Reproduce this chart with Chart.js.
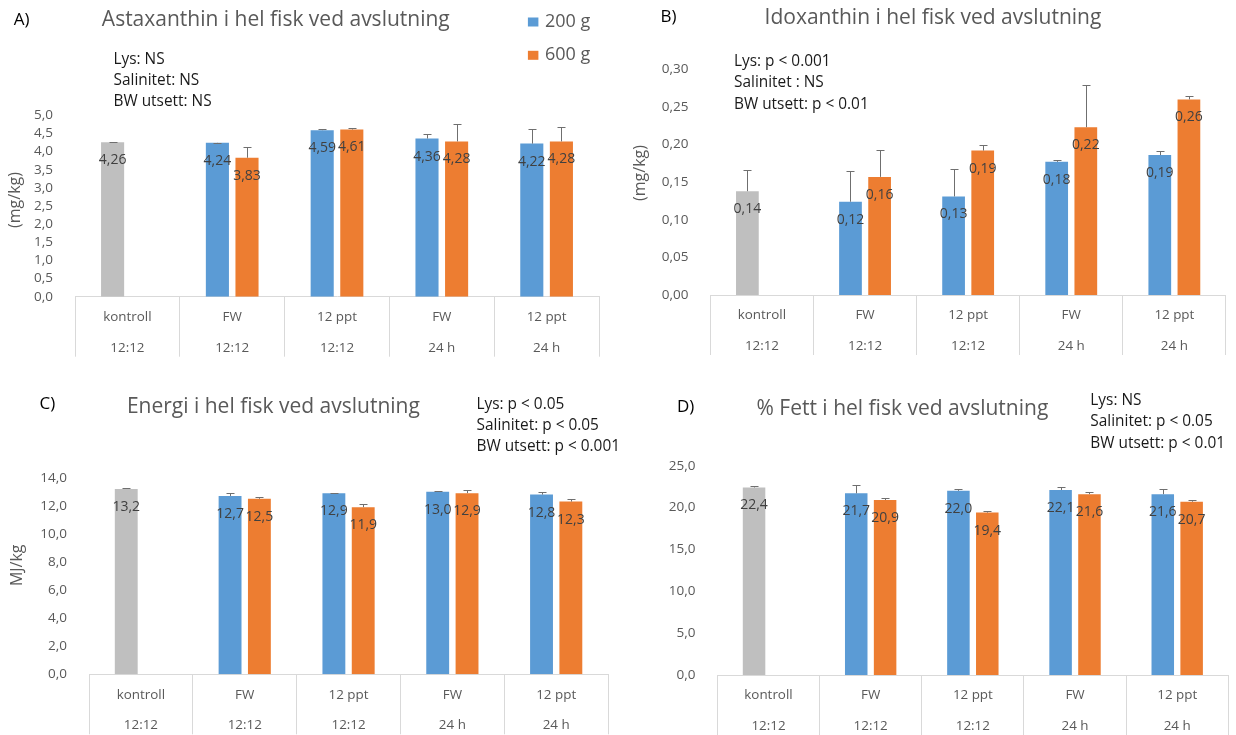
<!DOCTYPE html>
<html>
<head>
<meta charset="utf-8">
<title>Hel fisk ved avslutning</title>
<script src="https://cdn.jsdelivr.net/npm/chart.js@4.4.0/dist/chart.umd.min.js"></script>
<style>
  html, body { margin: 0; padding: 0; background: #fff; }
  #page { position: relative; width: 1236px; height: 735px; overflow: hidden; }
  #page canvas { position: absolute; }
</style>
</head>
<body>
<div id="page">
  <canvas id="chartA" width="620" height="368" style="left:0;top:0"></canvas>
  <canvas id="chartB" width="616" height="368" style="left:620px;top:0"></canvas>
  <canvas id="chartC" width="620" height="367" style="left:0;top:368px"></canvas>
  <canvas id="chartD" width="616" height="367" style="left:620px;top:368px"></canvas>
</div>
<script>
// Treatment groups (salinity, photoperiod) and fish size at transfer
var categories = ['kontroll', 'FW', '12 ppt', 'FW', '12 ppt'];
var photoperiods = ['12:12', '12:12', '12:12', '24 h', '24 h'];
var seriesNames = ['200 g', '600 g'];

// A) astaxanthin (mg/kg), first group is the control
var astaxanthin200 = [4.26, 4.24, 4.59, 4.36, 4.22];
var astaxanthin600 = [null, 3.83, 4.61, 4.28, 4.28];
var astaxanthinErr200 = [0.01, 0.01, 0.03, 0.12, 0.39];
var astaxanthinErr600 = [null, 0.29, 0.05, 0.47, 0.41];

// B) idoxanthin (mg/kg)
var idoxanthin200 = [0.138, 0.124, 0.131, 0.177, 0.186];
var idoxanthin600 = [null, 0.157, 0.192, 0.223, 0.260];
var idoxanthinErr200 = [0.028, 0.041, 0.037, 0.002, 0.006];
var idoxanthinErr600 = [null, 0.036, 0.007, 0.056, 0.004];

// C) energy (MJ/kg)
var energy200 = [13.2, 12.7, 12.9, 13.0, 12.8];
var energy600 = [null, 12.5, 11.9, 12.9, 12.3];
var energyErr200 = [0.09, 0.23, 0.03, 0.03, 0.15];
var energyErr600 = [null, 0.15, 0.25, 0.19, 0.15];

// D) fat (%)
var fat200 = [22.4, 21.7, 22.0, 22.1, 21.6];
var fat600 = [null, 20.9, 19.4, 21.6, 20.7];
var fatErr200 = [0.2, 0.95, 0.26, 0.4, 0.59];
var fatErr600 = [null, 0.2, 0.23, 0.3, 0.17];

// Statistics text
var statsA = ['Lys: NS', 'Salinitet: NS', 'BW utsett: NS'];
var statsB = ['Lys: p < 0.001', 'Salinitet : NS', 'BW utsett: p < 0.01'];
var statsC = ['Lys: p < 0.05', 'Salinitet: p < 0.05', 'BW utsett: p < 0.001'];
var statsD = ['Lys: NS', 'Salinitet: p < 0.05', 'BW utsett: p < 0.01'];

var BLUE = '#5B9BD5';
var ORANGE = '#ED7D31';
var GREY = '#BFBFBF';
var FONT = "'Open Sans', sans-serif";

Chart.defaults.font.family = FONT;

function fmt(v, decimals) {
  return v.toFixed(decimals).replace('.', ',');
}

function drawText(ctx, str, x, y, size, color, align) {
  ctx.font = size + 'px ' + FONT;
  ctx.fillStyle = color;
  ctx.textAlign = align || 'left';
  ctx.textBaseline = 'middle';
  ctx.fillText(str, x, y);
}

// error bars, value labels and the text around each panel
function decorPlugin(p) {
  return {
    id: 'decor',
    afterDatasetsDraw: function (chart) {
      var ctx = chart.ctx;
      var ys = chart.scales.y;
      ctx.save();
      chart.data.datasets.forEach(function (ds, di) {
        var meta = chart.getDatasetMeta(di);
        ds.data.forEach(function (v, i) {
          if (v === null) return;
          var bar = meta.data[i];
          var cx = Math.round(bar.x) + 0.5;
          var top = Math.round(ys.getPixelForValue(v + p.errors[di][i])) + 0.5;
          ctx.strokeStyle = '#6F6F6F';
          ctx.lineWidth = 1;
          ctx.beginPath();
          ctx.moveTo(cx, bar.y);
          ctx.lineTo(cx, top);
          ctx.moveTo(cx - 4, top);
          ctx.lineTo(cx + 4, top);
          ctx.stroke();
        });
      });
      chart.data.datasets.forEach(function (ds, di) {
        var meta = chart.getDatasetMeta(di);
        ds.data.forEach(function (v, i) {
          if (v === null) return;
          var bar = meta.data[i];
          drawText(ctx, fmt(v, p.decimals), bar.x, bar.y + 18, 14, '#404040', 'center');
        });
      });
      ctx.restore();
    },
    afterDraw: function (chart) {
      var ctx = chart.ctx;
      var a = chart.chartArea;
      ctx.save();
      drawText(ctx, p.letter, p.letterPos[0], p.letterPos[1], 17, '#000000', 'left');
      drawText(ctx, p.title, p.titlePos[0], p.titlePos[1], 21, '#595959', 'center');
      p.stats.forEach(function (line, k) {
        drawText(ctx, line, p.statsPos[0], p.statsPos[1] + k * 21.3, 15.4, '#1A1A1A', 'left');
      });
      if (p.yTitle) {
        ctx.save();
        ctx.translate(p.yTitlePos[0], p.yTitlePos[1]);
        ctx.rotate(-Math.PI / 2);
        drawText(ctx, p.yTitle, 0, 0, 16, '#595959', 'center');
        ctx.restore();
      }
      if (p.legendPos) {
        var colors = [BLUE, ORANGE];
        seriesNames.forEach(function (name, k) {
          var ly = p.legendPos[1] + k * 33.3;
          ctx.fillStyle = colors[k];
          ctx.fillRect(p.legendPos[0], ly - 4.5, 10.5, 9);
          drawText(ctx, name, p.legendPos[0] + 17, ly, 18, '#595959', 'left');
        });
      }
      ctx.restore();
    }
  };
}

function makeChart(p) {
  var canvas = document.getElementById(p.id);
  var W = canvas.width;
  var H = canvas.height;
  var area = p.area;
  return new Chart(canvas, {
    type: 'bar',
    data: {
      labels: categories.map(function (c, i) { return [c, photoperiods[i]]; }),
      datasets: [
        {
          label: seriesNames[0],
          data: p.values[0],
          backgroundColor: p.values[0].map(function (v, i) { return i === 0 ? GREY : BLUE; })
        },
        {
          label: seriesNames[1],
          data: p.values[1],
          backgroundColor: ORANGE
        }
      ]
    },
    options: {
      responsive: false,
      animation: false,
      events: [],
      layout: { padding: { left: 0, top: area.top, right: W - area.right, bottom: 0 } },
      datasets: { bar: { categoryPercentage: 0.565, barPercentage: 0.78 } },
      scales: {
        x: {
          grid: { offset: true, drawOnChartArea: false, tickLength: 60, color: '#D9D9D9' },
          border: { display: true, color: '#D9D9D9' },
          ticks: {
            color: '#595959',
            font: { size: 13.4, lineHeight: '30.5px' },
            padding: -54.75,
            maxRotation: 0,
            autoSkip: false
          },
          afterFit: function (s) { s.height = H - area.bottom; }
        },
        y: {
          min: 0,
          max: p.yMax,
          grid: { display: false },
          border: { display: false },
          ticks: {
            stepSize: p.yStep,
            autoSkip: false,
            padding: 14,
            color: '#595959',
            font: { size: 13.5 },
            callback: function (v) { return fmt(v, p.tickDecimals); }
          },
          afterFit: function (s) { s.width = area.left; }
        }
      },
      plugins: { legend: { display: false }, tooltip: { enabled: false } }
    },
    plugins: [decorPlugin(p)]
  });
}

makeChart({
  id: 'chartA',
  values: [astaxanthin200, astaxanthin600],
  errors: [astaxanthinErr200, astaxanthinErr600],
  yMax: 5, yStep: 0.5, tickDecimals: 1, decimals: 2,
  area: { left: 75, right: 599, top: 115.3, bottom: 296.7 },
  letter: 'A)', letterPos: [13.8, 20],
  title: 'Astaxanthin i hel fisk ved avslutning', titlePos: [275.8, 20],
  stats: statsA, statsPos: [113.5, 59.3],
  yTitle: '(mg/kg)', yTitlePos: [15.8, 200],
  legendPos: [527.9, 22]
});

makeChart({
  id: 'chartB',
  values: [idoxanthin200, idoxanthin600],
  errors: [idoxanthinErr200, idoxanthinErr600],
  yMax: 0.3, yStep: 0.05, tickDecimals: 2, decimals: 2,
  area: { left: 90.4, right: 605.9, top: 69.3, bottom: 295 },
  letter: 'B)', letterPos: [40.5, 17],
  title: 'Idoxanthin i hel fisk ved avslutning', titlePos: [313, 18],
  stats: statsB, statsPos: [114, 61.7],
  yTitle: '(mg/kg)', yTitlePos: [20.4, 173]
});

makeChart({
  id: 'chartC',
  values: [energy200, energy600],
  errors: [energyErr200, energyErr600],
  yMax: 14, yStep: 2, tickDecimals: 1, decimals: 1,
  area: { left: 89, right: 608.1, top: 109.7, bottom: 306.3 },
  letter: 'C)', letterPos: [39.5, 36.3],
  title: 'Energi i hel fisk ved avslutning', titlePos: [273.4, 38.7],
  stats: statsC, statsPos: [476.5, 36.3],
  yTitle: 'MJ/kg', yTitlePos: [17.8, 197.3]
});

makeChart({
  id: 'chartD',
  values: [fat200, fat600],
  errors: [fatErr200, fatErr600],
  yMax: 25, yStep: 5, tickDecimals: 1, decimals: 1,
  area: { left: 97.4, right: 608.3, top: 97.7, bottom: 307 },
  letter: 'D)', letterPos: [57, 38.7],
  title: '% Fett i hel fisk ved avslutning', titlePos: [282.4, 41.3],
  stats: statsD, statsPos: [470.3, 32.7]
});
</script>
</body>
</html>
